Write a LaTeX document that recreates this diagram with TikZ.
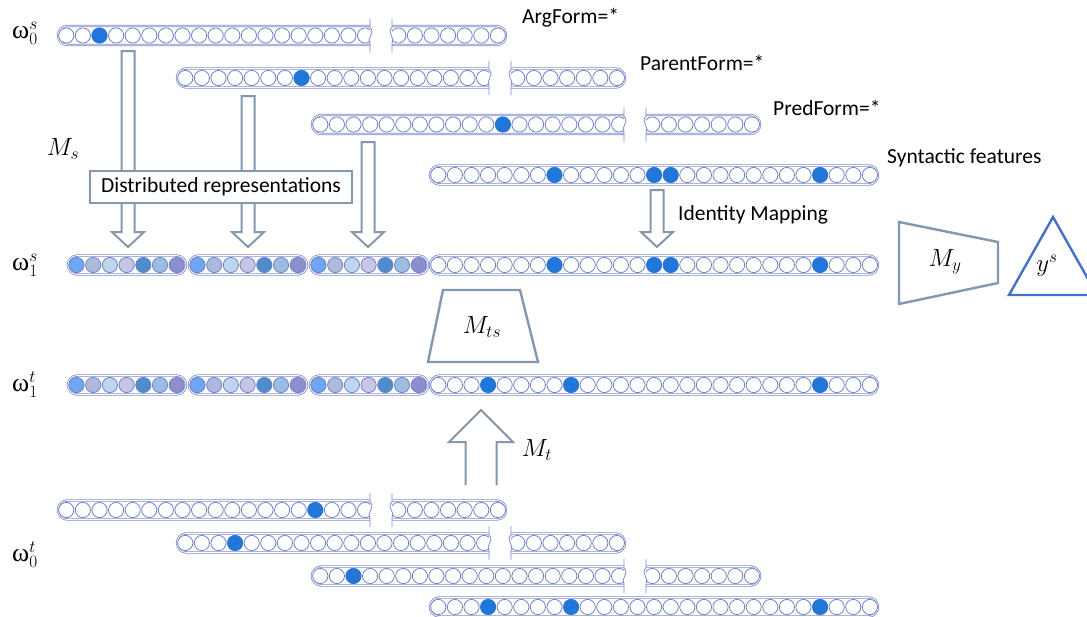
\documentclass[tikz,border=0pt]{standalone}
\usepackage{fontspec}
\setmainfont{Carlito}
\newfontfamily\grkfont{Liberation Serif}

\definecolor{capcol}{HTML}{7F8CCB}
\definecolor{ringcol}{HTML}{6F84C6}
\definecolor{hotcol}{HTML}{2176D9}
\definecolor{graycol}{HTML}{8497B0}
\definecolor{tricol}{HTML}{4472C4}
\definecolor{embA}{HTML}{6EA6F2}
\definecolor{embB}{HTML}{AEB9DE}
\definecolor{embC}{HTML}{BDD5EE}
\definecolor{embD}{HTML}{C6C6E6}
\definecolor{embE}{HTML}{4E8CCB}
\definecolor{embF}{HTML}{9BBDE2}
\definecolor{embG}{HTML}{8E8ECE}

\tikzset{
  caps/.style={draw=capcol, line width=0.8pt, double=white, double distance=0.8pt, rounded corners=9.5pt},
  ring/.style={draw=ringcol, line width=0.8pt, fill=white},
  hot/.style={fill=hotcol},
  brk/.style={draw=capcol, line width=0.8pt},
  blk/.style={draw=graycol, line width=2pt, fill=white, line join=miter},
  shapeline/.style={draw=graycol, line width=2.4pt, line join=miter},
  lbl/.style={font=\fontsize{21.5}{24}\selectfont, anchor=west, inner sep=0pt},
  mth/.style={font=\fontsize{26}{30}\selectfont, inner sep=0pt},
  wlab/.style={font=\fontsize{26}{30}\selectfont, inner sep=0pt}
}

% circles of a one-hot vector: x0, y, indices of the set positions
\newcommand\ohcircles[3]{%
  \foreach \i in {0,...,26}{\draw[ring] ({#1+8.3+\i*16.6},#2) circle (7.6);}
  \foreach \i in {#3}{\fill[hot] ({#1+8.3+\i*16.6},#2) circle (7.9);}
}
% full one-hot vector: name, x0, y, set positions
\newcommand\ohrow[4]{%
  \draw[caps] (#2,#3-9.5) rectangle ++(448,19);
  \ohcircles{#2}{#3}{#4}
  \coordinate (#1) at (#2+224,#3);
}
% one-hot vector with a break mark: name, x0, y, set positions
\newcommand\gaprow[4]{%
  \begin{scope}
    \clip (#2-6,#3-20) rectangle (#2+312,#3+20);
    \draw[caps] (#2,#3-9.5) rectangle ++(448,19);
    \ohcircles{#2}{#3}{#4}
  \end{scope}
  \begin{scope}
    \clip (#2+334,#3-20) rectangle (#2+456,#3+20);
    \draw[caps] (#2,#3-9.5) rectangle ++(448,19);
    \ohcircles{#2}{#3}{#4}
  \end{scope}
  \draw[brk] (#2+312,#3-17) -- (#2+312,#3-8) .. controls (#2+318,#3-3) and (#2+308,#3+3) .. (#2+312,#3+8) -- (#2+312,#3+17);
  \draw[brk] (#2+334,#3-17) -- (#2+334,#3-8) .. controls (#2+328,#3-3) and (#2+338,#3+3) .. (#2+334,#3+8) -- (#2+334,#3+17);
  \coordinate (#1) at (#2+224,#3);
}
% dense embedding block of seven values: x0, y
\newcommand\embgroup[2]{%
  \draw[caps] (#1,#2-9.5) rectangle ++(118,19);
  \foreach \c [count=\k from 0] in {embA,embB,embC,embD,embE,embF,embG}{%
    \filldraw[fill=\c, draw=ringcol, line width=0.8pt] ({#1+8.5+\k*16.7},#2) circle (7.6);}
}
% hollow block arrow pointing down: x, top of shaft
\newcommand\blkdown[2]{%
  \draw[blk] (#1-6.5,#2) -- (#1-6.5,232) -- (#1-16,232) -- (#1,247) -- (#1+16,232) -- (#1+6.5,232) -- (#1+6.5,#2) -- cycle;
}

\begin{document}
\begin{tikzpicture}[x=1pt,y=-1pt]
\clip (0,0) rectangle (1087,616);
\fill[white] (0,0) rectangle (1087,616);

% source-side sparse inputs
\gaprow{argS}{58}{35.5}{2}
\gaprow{parS}{177}{78}{7}
\gaprow{predS}{312}{124.5}{11}
\ohrow{synS}{430}{175}{7,13,14,23}

\node[wlab] (w0s) at (25,33) {\grkfont ω$^{s}_{0}$};
\node[lbl] (argT) at (522,18) {ArgForm=*};
\node[lbl] (parT) at (640,63) {ParentForm=*};
\node[lbl] (predT) at (773,108) {PredForm=*};
\node[lbl] (synT) at (887,158) {Syntactic features};

% mappings into the first layer
\blkdown{128}{51}
\blkdown{248}{96}
\blkdown{368}{142}
\blkdown{657}{190}
\node[mth] (Ms) at (63,149) {$M_s$};
\node[draw=graycol, line width=2.2pt, fill=white, minimum width=262pt, minimum height=32pt,
      font=\fontsize{21.5}{24}\selectfont, inner sep=0pt] (dist) at (221,187) {Distributed representations};
\node[lbl] (idm) at (678,215) {Identity Mapping};

% first layer, source
\embgroup{68}{265}
\embgroup{189}{265}
\embgroup{310}{265}
\ohrow{h1s}{430}{265}{7,13,14,23}
\node[wlab] (w1s) at (25,265) {\grkfont ω$^{s}_{1}$};

% classifier and output
\draw[shapeline] (899,222) -- (998,242) -- (998,283) -- (899,304) -- cycle;
\node[mth] (My) at (945,262) {$M_y$};
\draw[draw=tricol, line width=2.4pt, line join=miter] (1053,217) -- (1097,295) -- (1009,295) -- cycle;
\node[mth] (ys) at (1047,266) {$y^s$};

% target-to-source mapping
\draw[shapeline] (443,290) -- (520,290) -- (538,362) -- (428,362) -- cycle;
\node[mth] (Mts) at (482,327) {$M_{ts}$};

% first layer, target
\embgroup{68}{385}
\embgroup{189}{385}
\embgroup{310}{385}
\ohrow{h1t}{430}{385}{3,8,23}
\node[wlab] (w1t) at (25,385) {\grkfont ω$^{t}_{1}$};

% upward mapping from the target inputs
\draw[blk] (465.5,485) -- (465.5,442) -- (449,442) -- (481,410) -- (513,442) -- (496.5,442) -- (496.5,485);
\node[mth] (Mt) at (537,450) {$M_t$};

% target-side sparse inputs
\gaprow{argT0}{58}{510}{15}
\gaprow{parT0}{177}{543}{3}
\gaprow{predT0}{312}{576}{2}
\ohrow{synT0}{430}{607}{3,8,23}
\node[wlab] (w0t) at (25,555) {\grkfont ω$^{t}_{0}$};
\end{tikzpicture}
\end{document}
